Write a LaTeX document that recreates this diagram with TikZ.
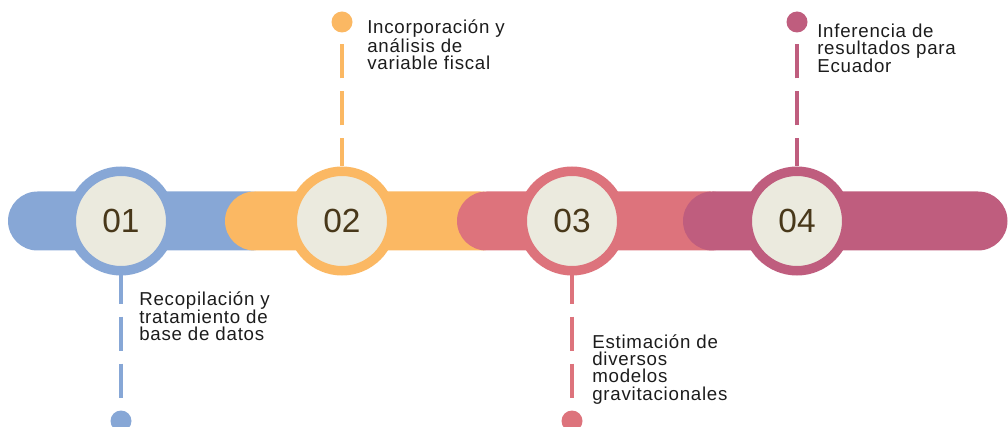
\documentclass[tikz,border=0pt]{standalone}
\usepackage{fontspec}
\setmainfont{Liberation Sans}
\newfontfamily\numfont{Liberation Sans}
\newfontfamily\lblfont[LetterSpace=4]{Liberation Sans}
\usepackage{tikz}
\definecolor{blueA}{RGB}{135,167,214}
\definecolor{orangeA}{RGB}{251,184,99}
\definecolor{redA}{RGB}{221,115,124}
\definecolor{pinkA}{RGB}{191,93,126}
\definecolor{cream}{RGB}{235,234,222}
\definecolor{numcol}{RGB}{72,56,26}
\definecolor{txt}{RGB}{28,28,28}

\begin{document}
\begin{tikzpicture}[x=0.25cm,y=0.25cm,
         stepbar/.style={fill=#1,rounded corners=0.7375cm},
         stepring/.style={circle,draw=#1,line width=0.2375cm,fill=cream,minimum size=2.4875cm,inner sep=0pt,
            font=\numfont\fontsize{23.8}{28}\selectfont,text=numcol},
         stepdot/.style={circle,fill=#1,minimum size=0.525cm,inner sep=0pt},
         stepstem/.style={draw=#1,line width=2.6pt,dash pattern=on 0.85cm off 0.325cm,dash phase=0.15cm},
         steptext/.style={anchor=base west,align=left,inner sep=0pt,text=txt,
            font=\lblfont\fontsize{13.3}{12.1}\selectfont}]
         \useasboundingbox (0,0) rectangle (100.8,42.6);
         % bars, later ones on top
         \foreach \a/\b/\col in {0.8/28/blueA, 22.5/51/orangeA, 45.7/74/redA, 68.3/100.75/pinkA}
            {\fill[stepbar=\col] (\a,17.55) rectangle (\b,23.45);}
         % steps
         \node[stepring=blueA] (c1) at (12.1,20.5) {01};
         \node[stepring=orangeA] (c2) at (34.2,20.5) {02};
         \node[stepring=redA] (c3) at (57.2,20.5) {03};
         \node[stepring=pinkA] (c4) at (79.7,20.5) {04};
         % stems and dots
         \node[stepdot=blueA] (d1) at (12.1,0.5) {};
         \node[stepdot=orangeA] (d2) at (34.2,40.4) {};
         \node[stepdot=redA] (d3) at (57.2,0.5) {};
         \node[stepdot=pinkA] (d4) at (79.7,40.4) {};
         \draw[stepstem=blueA] (c1) -- (d1);
         \draw[stepstem=orangeA] (c2) -- (d2);
         \draw[stepstem=redA] (c3) -- (d3);
         \draw[stepstem=pinkA] (c4) -- (d4);
         % labels (anchored at the last line)
         \node[steptext] (t1) at (13.9,8.5) {Recopilación y\\tratamiento de\\base de datos};
         \node[steptext] (t2) at (36.7,35.6) {Incorporación y\\análisis de\\variable fiscal};
         \node[steptext] (t3) at (59.2,2.6) {Estimación de\\diversos\\modelos\\gravitacionales};
         \node[steptext] (t4) at (81.7,35.3) {Inferencia de\\resultados para\\Ecuador};
      \end{tikzpicture}
\end{document}
